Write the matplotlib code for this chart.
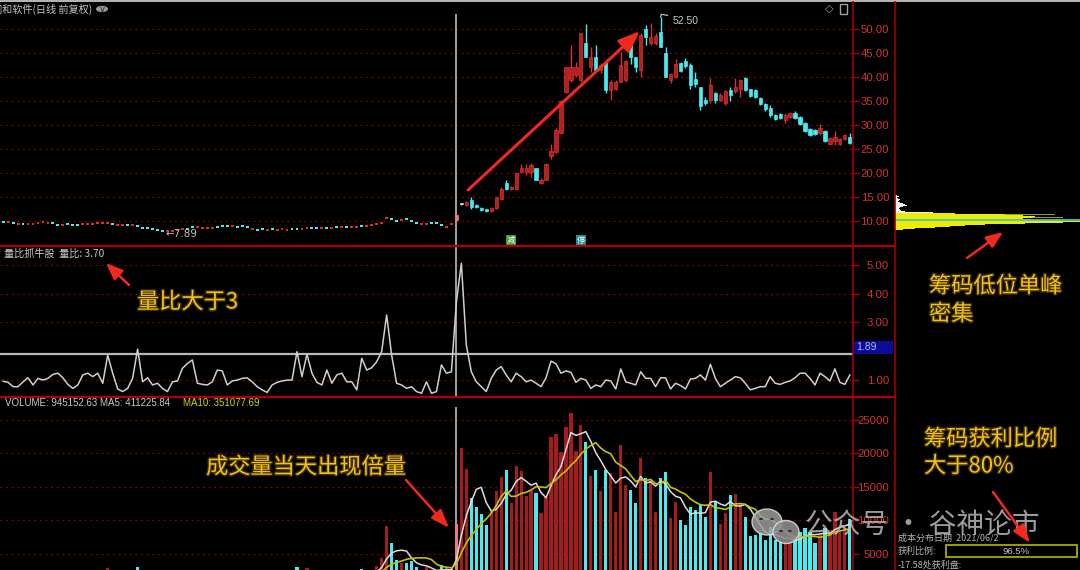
import numpy as np
import matplotlib
matplotlib.use("Agg")
import matplotlib.pyplot as plt
from matplotlib.patches import Rectangle, Ellipse, FancyArrowPatch, Circle
from matplotlib.lines import Line2D
import matplotlib.patheffects as pe

plt.rcParams['font.family'] = ['Noto Sans CJK SC', 'DejaVu Sans']

# ---------------- data ----------------
title = "润和软件(日线 前复权)"
pre_close = [9.86, 9.72, 9.65, 9.38, 9.31, 9.31, 9.38, 9.58, 9.72, 9.65,
             9.58, 9.24, 9.10, 9.31, 9.24, 9.24, 9.31, 9.38, 9.45, 9.51,
             9.51, 9.58, 9.38, 9.24, 9.17, 9.24, 9.24, 9.03, 8.61, 8.47,
             8.27, 8.06, 7.89, 7.95, 7.99, 8.06, 8.27, 8.40, 8.75, 8.75,
             8.61, 8.54, 8.54, 8.75, 8.96, 8.96, 8.96, 8.82, 8.96, 8.68,
             8.40, 8.20, 8.34, 8.20, 8.27, 8.20, 8.27, 8.20, 8.27, 8.34,
             8.27, 8.47, 8.47, 8.54, 8.54, 8.54, 8.61, 8.68, 8.75, 8.82,
             8.68, 8.75, 8.96, 9.03, 9.17, 9.31, 9.51, 10.70, 10.42, 10.07,
             10.21, 10.42, 10.00, 9.51, 9.31, 9.38, 9.51, 9.58, 9.10, 8.75,
             9.31]
pre_dir = ("crcrcrrrrr" "ccrcccrrrr" "rrcrrcrccc" "cccrrrrccr" "rrrcccrccc"
           "rccrcrrrcc" "rrccrcrcrc" "rrcrrrrrcc" "rcccrrcccr" "r")

post_open = [10.3, 13.5, 13.3, 14.3, 13.4, 12.8, 12.4, 12.0, 12.8, 14.6,
             17.9, 16.6, 16.6, 20.3, 20.3, 20.3, 21.0, 17.9, 18.6, 23.6,
             24.3, 28.3, 36.8, 39.4, 40.4, 39.4, 47.0, 42.1, 44.2, 41.5,
             43.2, 37.3, 37.6, 39.0, 39.4, 46.7, 44.2, 41.5, 50.1, 47.0,
             47.0, 49.4, 45.0, 39.4, 39.9, 43.0, 43.4, 42.5, 39.5, 37.85,
             35.2, 35.2, 36.7, 35.2, 34.65, 37.3, 37.0, 37.6, 39.7, 37.6,
             37.3, 35.6, 34.3, 33.5, 32.1, 32.3, 31.05, 31.6, 32.6, 31.6,
             30.4, 29.1, 29.0, 28.3, 28.8, 26.05, 26.7, 26.05, 27.1, 27.6]
post_high = [11.5, 13.6, 14.1, 14.9, 13.5, 12.9, 12.5, 13.0, 15.1, 17.0,
             18.5, 17.2, 20.3, 21.9, 21.9, 22.0, 21.1, 18.9, 22.0, 26.0,
             29.3, 35.2, 42.1, 46.7, 43.2, 49.1, 51.0, 46.3, 46.7, 43.0,
             43.2, 39.4, 39.4, 45.3, 43.5, 47.0, 44.2, 49.1, 50.8, 51.2,
             49.1, 52.5, 46.3, 40.8, 43.7, 43.2, 43.9, 42.85, 41.1, 38.0,
             35.8, 39.7, 36.9, 36.6, 37.3, 38.0, 39.7, 39.5, 39.9, 37.6,
             37.4, 35.9, 34.5, 34.2, 32.3, 32.6, 32.4, 32.6, 33.0, 31.9,
             30.7, 29.3, 29.1, 30.2, 29.0, 27.4, 28.8, 27.2, 28.1, 28.3]
post_low = [10.2, 13.3, 13.2, 12.6, 12.8, 12.1, 11.9, 11.9, 12.6, 14.4,
            16.4, 16.4, 16.4, 20.1, 19.6, 19.2, 18.5, 17.8, 18.5, 23.0,
            24.1, 28.2, 36.6, 39.0, 40.1, 39.0, 44.2, 41.1, 41.5, 40.8,
            36.6, 35.2, 37.3, 39.0, 39.0, 42.8, 41.1, 40.1, 46.7, 46.7,
            46.7, 46.3, 40.1, 38.7, 39.7, 41.1, 41.8, 37.6, 38.0, 33.1,
            34.2, 34.5, 34.5, 34.9, 34.2, 34.9, 36.6, 35.9, 37.1, 35.9,
            35.6, 34.2, 33.0, 31.6, 31.0, 31.2, 30.5, 31.4, 31.2, 30.0,
            28.6, 27.7, 27.9, 27.9, 26.5, 25.8, 25.8, 25.8, 26.9, 26.0]
post_close = [11.3, 13.5, 14.0, 13.0, 12.9, 12.2, 12.0, 12.8, 14.9, 16.7,
              16.6, 17.0, 20.0, 21.0, 21.0, 21.6, 18.6, 18.5, 21.9, 24.5,
              29.0, 35.0, 42.0, 42.1, 42.1, 49.1, 44.2, 44.2, 41.5, 42.5,
              37.3, 39.0, 39.0, 42.5, 43.4, 44.2, 42.1, 48.7, 48.4, 48.4,
              48.5, 46.3, 40.1, 40.6, 42.7, 41.3, 42.3, 38.3, 38.5, 33.9,
              34.5, 38.3, 35.3, 36.25, 37.15, 36.3, 38.0, 39.4, 37.3, 36.0,
              35.8, 34.4, 33.3, 32.1, 31.3, 31.4, 32.1, 32.4, 31.4, 30.2,
              28.8, 27.9, 28.1, 29.3, 26.7, 27.2, 27.6, 27.1, 27.9, 26.2]

vol_ratio = [0.95, 0.91, 0.76, 0.76, 0.93, 1.07, 0.82, 1.05, 0.99, 1.05,
             1.19, 1.23, 1.07, 0.84, 0.70, 0.82, 1.17, 1.23, 1.11, 1.23,
             0.88, 1.86, 1.23, 0.68, 0.59, 0.70, 1.05, 2.07, 0.93, 1.07,
             0.82, 0.88, 0.70, 0.59, 0.93, 0.96, 1.40, 1.57, 1.69, 0.88,
             0.84, 0.82, 0.93, 1.34, 1.31, 0.82, 0.96, 0.99, 1.05, 1.07,
             0.93, 0.76, 0.65, 0.56, 0.82, 0.91, 0.96, 0.99, 0.99, 1.98,
             1.11, 1.89, 1.23, 0.91, 0.82, 1.34, 0.88, 1.17, 1.23, 0.93,
             0.93, 0.65, 1.75, 1.34, 1.42, 1.63, 1.98, 3.26, 1.86, 0.88,
             0.82, 0.70, 0.76, 0.59, 0.53, 0.93, 0.53, 0.59, 1.52, 1.23,
             1.28, 3.70, 5.06, 2.21, 1.28, 0.93, 0.76, 0.59, 1.05, 1.34,
             1.46, 1.17, 0.93, 1.23, 1.11, 0.93, 0.99, 0.88, 0.76, 1.07,
             1.65, 1.56, 1.23, 1.31, 1.26, 0.91, 1.05, 0.99, 0.70, 0.82,
             0.76, 0.99, 0.96, 0.68, 1.38, 0.93, 0.88, 0.82, 1.28, 1.05,
             1.05, 0.76, 1.07, 1.07, 0.68, 0.88, 0.80, 0.68, 1.03, 1.05,
             1.17, 0.99, 1.54, 1.05, 0.76, 0.88, 0.99, 1.11, 1.07, 0.88,
             0.65, 0.70, 0.76, 0.76, 1.11, 0.88, 0.84, 0.91, 0.96, 1.07,
             1.23, 1.23, 1.05, 0.82, 1.23, 1.11, 0.96, 1.38, 0.91, 0.84,
             1.17]

volume = [1500, 1450, 1200, 1200, 1500, 1700, 1300, 1650, 1600, 1650,
          1850, 1900, 1700, 1350, 1150, 1350, 1850, 1950, 1800, 1950,
          1450, 2950, 1900, 1150, 1000, 1200, 1700, 3100, 1450, 1650,
          1300, 1400, 1150, 1000, 1550, 1600, 2200, 2400, 2550, 1400,
          1350, 1300, 1500, 2100, 2050, 1300, 1550, 1600, 1700, 1750,
          1500, 1250, 1100, 950, 1400, 1550, 1600, 1650, 1650, 3000,
          1800, 2900, 1900, 1400, 1300, 2100, 1400, 1850, 1950, 1500,
          1500, 1100, 2700, 2200, 2450, 3200, 4350, 9150, 6590, 4100,
          3650, 3700, 4000, 3000, 2500, 3000, 2050, 2200, 3300, 2900,
          2700, 9452, 20770, 17740, 13360, 11950, 10950, 9330, 11570, 14450,
          16440, 17540, 12560, 18140, 17390, 13660, 14550, 14155, 11100, 13560,
          22500, 22900, 20200, 23900, 26100, 20400, 24200, 21700, 16600, 17600,
          14450, 17550, 17040, 11320, 21270, 15300, 14550, 12560, 19280, 16290,
          16190, 11320, 16390, 17190, 10420, 12810, 10070, 9330, 12060, 11570,
          12310, 10570, 17190, 12810, 9430, 11070, 13810, 13910, 12560, 10570,
          7740, 7840, 8090, 7090, 9080, 7090, 6840, 6840, 6840, 7340,
          8330, 8830, 8330, 6590, 7840, 8930, 8580, 11320, 8330, 8830,
          10220]

price_ticks = [10, 15, 20, 25, 30, 35, 40, 45, 50]
ratio_ticks = [1, 3, 4, 5]
vol_ticks = [5000, 10000, 15000, 20000, 25000]

chip_price = [15.4, 15.2, 15.0, 14.8, 14.6, 14.4, 14.2, 14.0, 13.8, 13.6,
              13.4, 13.2, 13.0, 12.8, 12.6, 12.4, 12.2, 12.0, 11.8,
              11.6, 11.4, 11.2, 11.0, 10.8, 10.6, 10.4, 10.2, 10.0, 9.8,
              9.6, 9.4, 9.2, 9.0, 8.8, 8.6, 8.4, 8.2]
chip_amount = [2, 4, 3, 2, 3, 5, 4, 3, 5, 8,
               10, 12, 8, 5, 4, 5, 6, 10, 38,
               60, 110, 128, 140, 138, 128, 135, 165, 172, 185,
               168, 130, 90, 70, 55, 40, 20, 8]
olive_price = [11.3, 10.7]
olive_amount = [160, 168]
avg_cost = 10.15

cursor_idx = 91
high_idx, high_val = 132, 52.50
low_idx, low_val = 32, 7.89
ratio_level = 1.89
ratio_now = 3.70
vol_header = "VOLUME: 945152.63 MA5: 411225.84"
ma10_header = "MA10: 351077.69"
profit_ratio = "96.5%"

# ---------------- layout helpers ----------------
W, H = 1080, 570
fig = plt.figure(figsize=(W / 100, H / 100), dpi=100, facecolor='black')


def rect(l, t, r, b):
    return [l / W, 1 - b / H, (r - l) / W, (b - t) / H]


def fx(x):
    return x / W


def fy(y):
    return 1 - y / H


def fline(xs, ys, **kw):
    fig.add_artist(Line2D([fx(v) for v in xs], [fy(v) for v in ys],
                          transform=fig.transFigure, **kw))


def ftext(x, y, s, **kw):
    fig.text(fx(x), fy(y), s, **kw)


def farrow(x0, y0, x1, y1, lw=2.0, hl=10, hw=4.5, color='#f2291c'):
    a = FancyArrowPatch((fx(x0), fy(y0)), (fx(x1), fy(y1)),
                        transform=fig.transFigure,
                        arrowstyle='-|>,head_length=%g,head_width=%g' % (hl, hw),
                        mutation_scale=1, color=color, lw=lw,
                        shrinkA=0, shrinkB=0, zorder=20)
    fig.patches.append(a)


RED = '#b42020'
RED_E = '#dc3030'
CYAN = '#48ecf0'
WHITE = '#e6e6e6'
PINK = '#f07878'
GRID = '#8a0000'
LABEL = '#d23434'
GOLD = '#f4c312'

XL = (-0.627, 170.63)

ax_p = fig.add_axes(rect(0, 0, 853, 245.5))
ax_r = fig.add_axes(rect(0, 245.5, 853, 396.5))
ax_v = fig.add_axes(rect(0, 396.5, 853, 570))
ax_c = fig.add_axes(rect(895, 0, 1080, 245.5))


def style(ax, ticks, fmt, ylim):
    ax.set_facecolor('black')
    ax.set_xlim(XL)
    ax.set_ylim(ylim)
    for s in ax.spines.values():
        s.set_visible(False)
    ax.set_xticks([])
    ax.yaxis.tick_right()
    ax.set_yticks(ticks)
    ax.set_yticklabels([fmt % t for t in ticks], fontfamily='Liberation Sans',
                       fontsize=8.2, color=LABEL)
    ax.tick_params(axis='y', length=4, width=1, color='#b00000', pad=22)
    for lab in ax.get_yticklabels():
        lab.set_horizontalalignment('right')
    for t in ticks:
        ax.axhline(t, color=GRID, lw=0.9, ls=(0, (1.5, 3)), zorder=0)


style(ax_p, price_ticks, '%.2f', (4.90, 56.04))
style(ax_r, ratio_ticks, '%.2f', (0.418, 5.68))
style(ax_v, vol_ticks, '%d', (2612, 28507))

# ---------------- price panel ----------------
n_pre = len(pre_close)
x_pre = np.arange(n_pre)
up_pre = np.array([c == 'r' for c in pre_dir])
pre_col = np.where(up_pre, '#d23030', CYAN)
ax_p.bar(x_pre, 0.42, bottom=np.array(pre_close) - 0.21, width=0.58,
         color=pre_col, linewidth=0, zorder=3)

x_post = np.arange(n_pre, n_pre + len(post_open))
for k, x in enumerate(x_post):
    o, h, l, c = post_open[k], post_high[k], post_low[k], post_close[k]
    if c > o:
        face, edge = RED, RED_E
    elif c < o:
        face, edge = CYAN, CYAN
    else:
        face, edge = WHITE, WHITE
    if x == cursor_idx:
        face, edge = PINK, PINK
    ax_p.vlines(x, l, h, color=edge, lw=1.0, zorder=2)
    bh = max(abs(c - o), 0.3)
    ax_p.add_patch(Rectangle((x - 0.32, min(o, c)), 0.64, bh, fc=face, ec=edge,
                             lw=0.5, zorder=3))

# high / low markers
ax_p.plot([high_idx, high_idx + 0.15, high_idx + 1.4],
          [high_val, high_val + 0.55, high_val + 0.35], color='#bdbdbd', lw=0.9)
ax_p.annotate('%.2f' % high_val, xy=(high_idx, high_val), xytext=(12, -4),
              textcoords='offset pixels', color='#c8c8c8', fontsize=7.5,
              fontfamily='Liberation Sans', va='center')
ax_p.annotate('\u2190%.2f' % low_val, xy=(low_idx, low_val), xytext=(3, -3),
              textcoords='offset pixels', color='#c0c0c0', fontsize=7.5,
              fontfamily='DejaVu Sans', va='center')

# badges
ax_p.text(102, 6.0, '减', fontsize=6, color='white', ha='center', va='center',
          bbox=dict(fc='#3c9a3c', ec='none', pad=0.8))
ax_p.text(116, 6.0, '停', fontsize=6, color='white', ha='center', va='center',
          bbox=dict(fc='#249090', ec='none', pad=0.8))

ax_p.axvline(cursor_idx, ymin=0, ymax=0.939, color='#a0a0a0', lw=1.4, zorder=1)

# ---------------- volume ratio panel ----------------
x_all = np.arange(len(vol_ratio))
ax_r.plot(x_all, vol_ratio, color='#cfcfcf', lw=1.1, zorder=3)
ax_r.axhline(ratio_level, color='#b8b8b8', lw=1.6, zorder=2)
ax_r.axvline(cursor_idx, color='#a0a0a0', lw=1.4, zorder=1)

# ---------------- volume panel ----------------
vol = np.array(volume, dtype=float)
vcols = list(np.where(up_pre, '#a51c1c', CYAN))
for k in range(len(post_open)):
    if post_close[k] >= post_open[k]:
        vcols.append('#a51c1c')
    else:
        vcols.append(CYAN)
vcols[cursor_idx] = PINK
ax_v.bar(x_all, vol, width=0.64, color=vcols, linewidth=0, zorder=3)
ma5 = np.convolve(vol, np.ones(5) / 5, mode='valid')
ma10 = np.convolve(vol, np.ones(10) / 10, mode='valid')
ax_v.plot(x_all[4:], ma5, color='#dcdcdc', lw=1.1, zorder=4)
ax_v.plot(x_all[9:], ma10, color='#c2c200', lw=1.2, zorder=4)
ax_v.axvline(cursor_idx, ymin=0, ymax=0.936, color='#a0a0a0', lw=1.4, zorder=1)

# ---------------- chip distribution ----------------
ax_c.set_facecolor('black')
for s in ax_c.spines.values():
    s.set_visible(False)
ax_c.set_xticks([])
ax_c.set_yticks([])
ax_c.set_xlim(0, 185)
ax_c.set_ylim(4.90, 56.04)
ax_c.barh(olive_price, olive_amount, height=0.25, color='#9a9a12', linewidth=0)
ccols = ['#f2f2f2' if p >= 11.8 else '#ecec00' for p in chip_price]
ax_c.barh(chip_price, chip_amount, height=0.2, color=ccols, linewidth=0)
ax_c.axhline(avg_cost, color='#40c8c8', lw=1.3)

# ---------------- frame lines ----------------
fline([0, 1080], [0.6, 0.6], color='#d8d8d8', lw=1.2)
fline([0, 895], [245.5, 245.5], color='#b00000', lw=1.6)
fline([0, 895], [396.5, 396.5], color='#b00000', lw=1.6)
fline([853, 853], [2, 570], color='#a00000', lw=1.2)
fline([895, 895], [2, 570], color='#a00000', lw=1.2)

# 1.89 box
fig.patches.append(Rectangle((fx(854), fy(354)), 39 / W, 13 / H, transform=fig.transFigure,
                             fc='#0c0c96', ec='none', zorder=10))
ftext(856, 347.5, '%.2f' % ratio_level, color='#b4b4ff', fontsize=7.5,
      fontfamily='Liberation Sans', va='center', zorder=11)

# ---------------- header texts ----------------
ftext(-8, 9, title, color='#c4c4c4', fontsize=7.3, va='center')
fig.patches.append(Circle((fx(102), fy(9)), 6 / W, transform=fig.transFigure,
                          fc='#9a9a9a', ec='none'))
ftext(102, 9.5, 'v', color='#202020', fontsize=6, ha='center', va='center',
      fontfamily='DejaVu Sans')
ftext(829, 9, '\u25c7', color='#a0a0a0', fontsize=8, ha='center', va='center',
      fontfamily='DejaVu Sans')
fig.patches.append(Rectangle((fx(840), fy(14)), 7 / W, 10 / H, transform=fig.transFigure,
                             fc='none', ec='#a0a0a0', lw=1))

ftext(4, 254, '量比抓牛股  量比: %.2f' % ratio_now, color='#c8c8c8', fontsize=7.3,
      va='center')
ftext(5, 403, vol_header, color='#c8c8c8', fontsize=7.0, va='center',
      fontfamily='Liberation Sans')
ftext(183, 403, ma10_header, color='#d4d400', fontsize=7.0, va='center',
      fontfamily='Liberation Sans')

# ---------------- annotations ----------------
glow = [pe.withStroke(linewidth=2, foreground='#3c2c00')]
ftext(137, 302, '量比大于3', color=GOLD, fontsize=16, va='center', path_effects=glow)
ftext(929, 286, '筹码低位单峰', color=GOLD, fontsize=16, va='center', path_effects=glow)
ftext(929, 314, '密集', color=GOLD, fontsize=16, va='center', path_effects=glow)
ftext(206, 467, '成交量当天出现倍量', color=GOLD, fontsize=16, va='center', path_effects=glow)
ftext(924, 439, '筹码获利比例', color=GOLD, fontsize=16, va='center', path_effects=glow)
ftext(924, 466, '大于80%', color=GOLD, fontsize=16, va='center', path_effects=glow)

farrow(468, 190, 640, 31, lw=2.2, hl=13, hw=5)
farrow(129, 285, 106, 263, lw=1.8, hl=10, hw=4)
farrow(406, 480, 449, 528, lw=1.8, hl=11, hw=4)
farrow(967, 258, 1003, 232, lw=1.8, hl=10, hw=4)
farrow(993, 492, 1030, 543, lw=1.8, hl=11, hw=4)

# cost distribution footer
ftext(898, 538, '成本分布日期  2021/06/2', color='#b4b4b4', fontsize=6.5, va='center')
ftext(898, 551, '获利比例:', color='#b4b4b4', fontsize=6.5, va='center')
fig.patches.append(Rectangle((fx(946), fy(557)), 131 / W, 12 / H, transform=fig.transFigure,
                             fc='none', ec='#b8b800', lw=1.2, zorder=10))
ftext(1016, 551, profit_ratio, color='#c8c8c8', fontsize=6.8, va='center', ha='center',
      fontfamily='Liberation Sans')
ftext(898, 565, '-17.58处获利盘:', color='#b4b4b4', fontsize=6.5, va='center')

# watermark
fig.patches.append(Ellipse((fx(767), fy(522)), 30 / W, 26 / H, transform=fig.transFigure,
                           fc='#9c9c9c', ec='#dddddd', lw=1, alpha=0.85, zorder=15))
fig.patches.append(Ellipse((fx(786), fy(532)), 26 / W, 23 / H, transform=fig.transFigure,
                           fc='#8c8c8c', ec='#dddddd', lw=1, alpha=0.9, zorder=16))
for (ex, ey) in [(761, 519), (772, 519), (781, 531), (790, 531)]:
    fig.patches.append(Circle((fx(ex), fy(ey)), 2 / W, transform=fig.transFigure,
                              fc='#303030', ec='none', zorder=17))
ftext(805, 526, '公众号 · 谷神论市', color='#c4c4c4', fontsize=20, va='center',
      alpha=0.8, zorder=15)

fig.savefig('out.png', dpi=100, facecolor='black')
